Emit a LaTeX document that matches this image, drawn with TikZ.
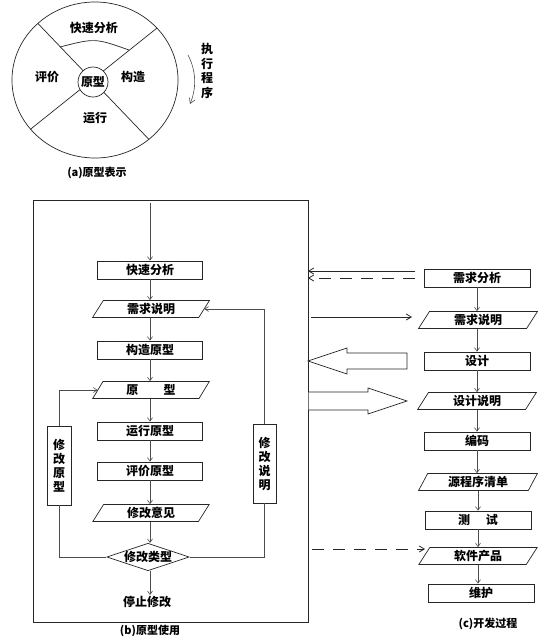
\documentclass[tikz,border=0pt]{standalone}
\usepackage{fontspec}
\setmainfont{Noto Sans CJK SC}
\usetikzlibrary{shapes.geometric,arrows.meta}
\begin{document}
\begin{tikzpicture}[x=1pt,y=-1pt,
 every node/.style={font=\fontsize{12}{14}\selectfont\bfseries, inner sep=1pt},
 ln/.style={line width=0.7pt, draw=black!85},
 rbox/.style={ln, rectangle, minimum width=105pt, minimum height=18pt},
 pbox/.style={ln, trapezium, trapezium left angle=65, trapezium right angle=115, trapezium stretches=true, minimum width=117pt, minimum height=17pt, inner sep=0pt},
 vbox/.style={ln, rectangle, minimum width=24pt, minimum height=79pt, align=center, inner sep=0pt},
 arr/.style={draw=black!70, line width=0.6pt, -{Straight Barb[length=3.5pt,width=5pt]}},
 barr/.style={draw=black!85, line width=0.8pt, -{Straight Barb[length=5pt,width=6pt]}},
 dsh/.style={dash pattern=on 12pt off 9pt},
 hollow/.style={draw=black!85, line width=0.7pt, fill=white},
 captxt/.style={font=\fontsize{11}{13}\selectfont\bfseries}
 ]
\path[fill=white] (0,0) rectangle (547,641);
\useasboundingbox (0,0) rectangle (547,641);

% ---------- (a) ----------
\node[ln, ellipse, minimum width=166pt, minimum height=156pt, inner sep=0pt] (ring) at (95,80) {};
\begin{scope}
  \clip (95,80) ellipse [x radius=83pt, y radius=78pt];
  \draw[ln] (3,-13) -- (183,175);
  \draw[ln] (-8,160) -- (192,0);
\end{scope}
\draw[ln] (60,47) .. controls (95,38) .. (129,50);
\node[ln, circle, minimum size=30pt, inner sep=0pt, fill=white] (core) at (93,82) {原型};
\node (qsfx) at (94,28) {快速分析};
\node (pj) at (47,77) {评价};
\node (gz) at (133,77) {构造};
\node (yx) at (95,118) {运行};
\draw[draw=black!70, line width=0.6pt, -{Straight Barb[length=5pt,width=6pt]}] (188,55) .. controls (197,72) and (196,90) .. (190,104);
\node[align=center, font=\fontsize{12}{14.5}\selectfont\bfseries] (zx) at (207,71) {执\\行\\程\\序};
\node[captxt] (capa) at (97,173) {(a)原型表示};

% ---------- (b) ----------
\node[ln, rectangle, minimum width=275pt, minimum height=422pt, inner sep=0pt] (bb) at (170.5,411) {};
\coordinate (in) at (150,203);
\node[rbox] (b1) at (150,270) {快速分析};
\node[pbox] (b2) at (151,309) {需求说明};
\node[rbox] (b3) at (150,350) {构造原型};
\node[pbox] (b4) at (151,390) {原\hspace{2.1em}型};
\node[rbox] (b5) at (150,431) {运行原型};
\node[rbox] (b6) at (150,471) {评价原型};
\node[pbox] (b7) at (151,513) {修改意见};
\node[ln, diamond, aspect=3, inner sep=0pt] (b8) at (148,557) {修改类型};
\node (b9) at (147,602) {停止修改};
\node[vbox] (xl) at (59,465.5) {修\\改\\原\\型};
\node[vbox, minimum width=23pt] (xr) at (264.5,463.5) {修\\改\\说\\明};

\draw[arr] (in) -- (b1);
\draw[arr] (b1) -- (b1.south |- b2.north);
\draw[arr] (b2.south -| b1) -- (b1 |- b3.north);
\draw[arr] (b3) -- (b3 |- b4.north);
\draw[arr] (b4.south -| b3) -- (b3 |- b5.north);
\draw[arr] (b5) -- (b6);
\draw[arr] (b6) -- (b6 |- b7.north);
\draw[arr] (b7.south -| b6) -- (b6 |- b8.north);
\draw[arr] (b8.south -| b6) -- (b6 |- b9.north);
\draw[draw=black!70, line width=0.6pt] (b8.west) -| (xl.south);
\draw[arr] (xl.north) |- (b4.west);
\draw[draw=black!70, line width=0.6pt] (b8.east) -| (xr.south);
\draw[arr] (xr.north) |- (b2.east);
\node[captxt] (capb) at (150,631) {(b)原型使用};

% ---------- (c) ----------
\node[rbox, minimum width=106pt] (c1) at (477,278) {需求分析};
\node[pbox, minimum width=119pt] (c2) at (478,320) {需求说明};
\node[rbox, minimum width=106pt] (c3) at (477,361) {设计};
\node[pbox, minimum width=119pt] (c4) at (477,401) {设计说明};
\node[rbox, minimum width=106pt] (c5) at (477,441) {编码};
\node[pbox, minimum width=119pt] (c6) at (478,482) {源程序清单};
\node[rbox, minimum width=106pt] (c7) at (478,520) {测\hspace{1.3em}试};
\node[pbox, minimum width=119pt] (c8) at (478,556) {软件产品};
\node[rbox, minimum width=106pt] (c9) at (481,593) {维护};
\draw[arr] (c1.south) -- (c1.south |- c2.north);
\draw[arr] (c2.south -| c1) -- (c1 |- c3.north);
\draw[arr] (c3.south) -- (c3.south |- c4.north);
\draw[arr] (c4.south -| c3) -- (c3 |- c5.north);
\draw[arr] (c5.south) -- (c5.south |- c6.north);
\draw[arr] (c6.south -| c7) -- (c7 |- c7.north);
\draw[arr] (c7.south) -- (c7.south |- c8.north);
\draw[arr] (c8.south -| c7) -- (c7 |- c9.north);
\node[captxt] (capc) at (488,624) {(c)开发过程};

% ---------- links between (b) and (c) ----------
\coordinate (s1) at (415,271); \coordinate (e1) at (308,271);
\coordinate (s2) at (415,278); \coordinate (e2) at (308,278);
\coordinate (s3) at (311,317); \coordinate (e3) at (412,317);
\coordinate (s4) at (312,549); \coordinate (e4) at (425,549);
\draw[barr] (s1) -- (e1);
\draw[barr, dsh] (s2) -- (e2);
\draw[barr] (s3) -- (e3);
\draw[barr, dsh] (s4) -- (e4);
\draw[hollow] (407,353) -- (347,353) -- (347,348) -- (308,361) -- (347,374) -- (347,369) -- (407,369) -- cycle;
\draw[hollow] (308.5,392) -- (368,392) -- (368,388) -- (407,401) -- (368,414) -- (368,410) -- (308.5,410);
\end{tikzpicture}
\end{document}
